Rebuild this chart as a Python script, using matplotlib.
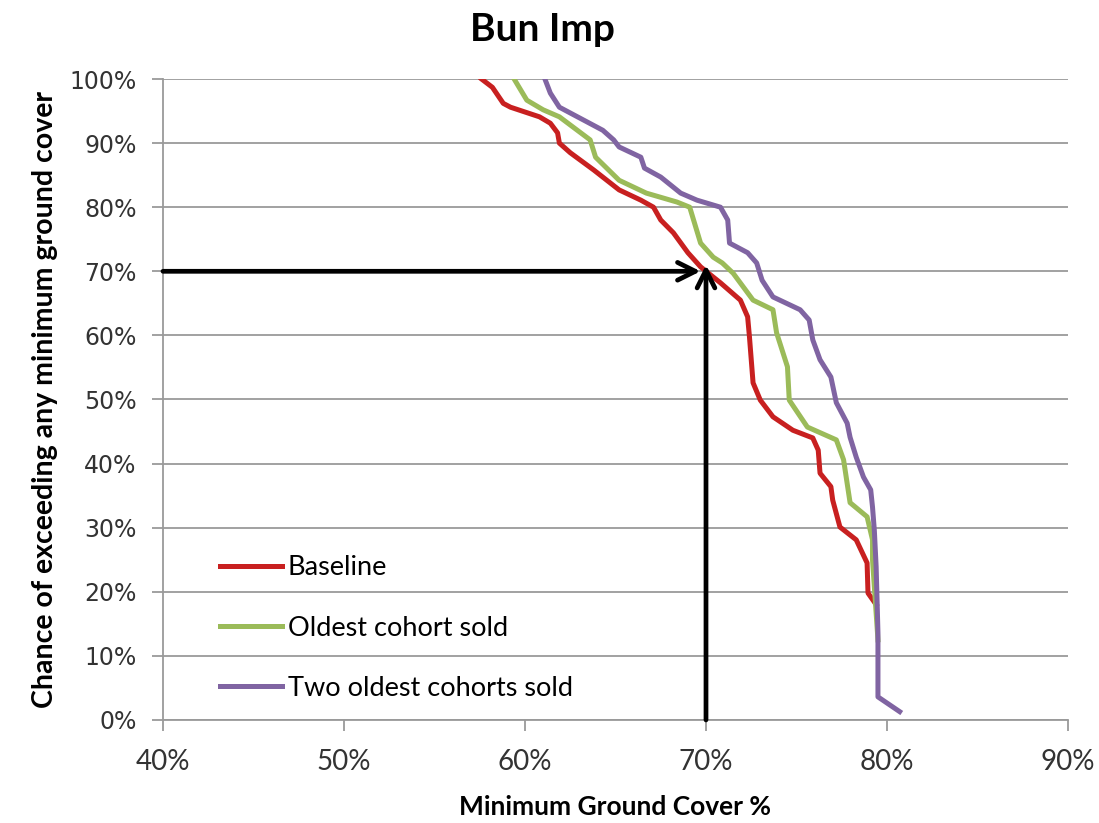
import matplotlib
matplotlib.use("Agg")
import matplotlib.pyplot as plt
from matplotlib.ticker import PercentFormatter

# --- data (x = min ground cover %, y = chance %) ---
base_x = [57.6, 58.2, 58.8, 59.2, 60.8, 61.4, 61.8, 61.9, 62.5, 63.8, 65.2, 66.4,
          67.1, 67.5, 68.2, 69.0, 69.7, 70.4, 70.8, 71.9, 72.3, 72.4, 72.6, 73.0,
          73.7, 74.8, 75.9, 76.2, 76.3, 76.9, 77.0, 77.4, 78.3, 78.9, 78.95, 79.4]
base_y = [100.0, 98.7, 96.2, 95.6, 94.1, 93.1, 91.6, 90.0, 88.5, 85.8, 82.7, 81.1,
          80.0, 78.0, 76.0, 72.9, 70.7, 69.1, 68.2, 65.5, 62.9, 59.8, 52.6, 49.9,
          47.3, 45.2, 44.0, 42.1, 38.5, 36.4, 34.3, 30.1, 28.1, 24.5, 19.8, 18.0]

old_x = [59.4, 60.1, 61.0, 61.9, 63.6, 63.9, 65.2, 66.7, 68.4, 69.1, 69.7, 70.4,
         70.9, 71.5, 72.6, 73.7, 73.9, 74.5, 74.6, 75.6, 77.2, 77.6, 77.96, 78.9,
         79.2, 79.2, 79.3, 79.5]
old_y = [100.0, 96.7, 95.2, 94.1, 90.5, 87.8, 84.2, 82.2, 80.8, 80.0, 74.4, 72.2,
         71.3, 69.7, 65.5, 64.0, 60.4, 55.1, 49.9, 45.7, 43.7, 40.6, 33.9, 31.7,
         28.1, 25.0, 20.8, 12.5]

two_x = [61.1, 61.4, 61.9, 62.5, 64.3, 64.9, 65.2, 66.4, 66.6, 67.5, 68.6, 69.5,
         70.8, 71.2, 71.3, 72.3, 72.8, 73.1, 73.7, 75.2, 75.7, 75.9, 76.3, 76.9,
         77.2, 77.8, 77.96, 78.3, 78.7, 79.1, 79.2, 79.3, 79.4, 79.5, 79.5, 80.7]
two_y = [100.0, 97.8, 95.6, 94.7, 92.0, 90.5, 89.4, 87.8, 86.1, 84.7, 82.2, 81.1,
         80.0, 78.0, 74.4, 72.9, 71.3, 68.6, 66.0, 64.0, 62.4, 59.3, 56.2, 53.5,
         49.5, 46.3, 44.1, 41.0, 37.9, 35.9, 33.2, 29.6, 23.9, 13.6, 3.6, 1.3]

labels = ["Baseline", "Oldest cohort sold", "Two oldest cohorts sold"]
colors = ["#C82020", "#9BBB59", "#8064A2"]

# reading guide arrows
guide_x = 70
guide_y = 70

FONT = "Lato"

fig = plt.figure(figsize=(10.99, 8.23), dpi=100)
ax = fig.add_axes([0.1483, 0.1252, 0.8235, 0.7788])

for xs, ys, lab, col in zip([base_x, old_x, two_x], [base_y, old_y, two_y], labels, colors):
    ax.plot(xs, ys, color=col, lw=3.6, label=lab, solid_joinstyle="round")

ax.annotate("", xy=(guide_x - 0.3, guide_y), xytext=(40, guide_y),
            arrowprops=dict(arrowstyle="->", lw=3.4, color="black",
                            mutation_scale=32, shrinkA=0, shrinkB=0))
ax.annotate("", xy=(guide_x, guide_y + 1), xytext=(guide_x, 0),
            arrowprops=dict(arrowstyle="->", lw=3.4, color="black",
                            mutation_scale=32, shrinkA=0, shrinkB=0))

ax.set_xlim(40, 90)
ax.set_ylim(0, 100)
ax.set_xticks(range(40, 91, 10))
ax.set_yticks(range(0, 101, 10))
ax.xaxis.set_major_formatter(PercentFormatter(decimals=0))
ax.yaxis.set_major_formatter(PercentFormatter(decimals=0))
ax.grid(axis="y", color="#9a9a9a", lw=1.3)
ax.set_axisbelow(True)
for s in ["top", "right"]:
    ax.spines[s].set_visible(False)
for s in ["left", "bottom"]:
    ax.spines[s].set_color("#9a9a9a")
    ax.spines[s].set_linewidth(1.3)
ax.tick_params(colors="#9a9a9a", length=8, width=1.3, labelcolor="#333333")
ax.tick_params(axis="x", pad=13, labelsize=20)
ax.tick_params(axis="y", pad=11, labelsize=17)
for t in ax.get_xticklabels():
    t.set_family(FONT)

fig.text(0.494, 0.964, "Bun Imp", fontsize=28, fontweight="bold", family=FONT,
         ha="center", va="center")
ax.set_xlabel("Minimum Ground Cover %", fontsize=19, fontweight="bold",
              family=FONT, labelpad=14)
ax.set_ylabel("Chance of exceeding any minimum ground cover", fontsize=20.5,
              fontweight="bold", family=FONT, labelpad=8)

ax.legend(loc="lower left", bbox_to_anchor=(0.063, 0.03), frameon=False,
          handlelength=2.3, handletextpad=0.2, labelspacing=1.3,
          borderpad=0, borderaxespad=0,
          prop={"family": FONT, "size": 19.5})

fig.savefig("out.png", dpi=100)
